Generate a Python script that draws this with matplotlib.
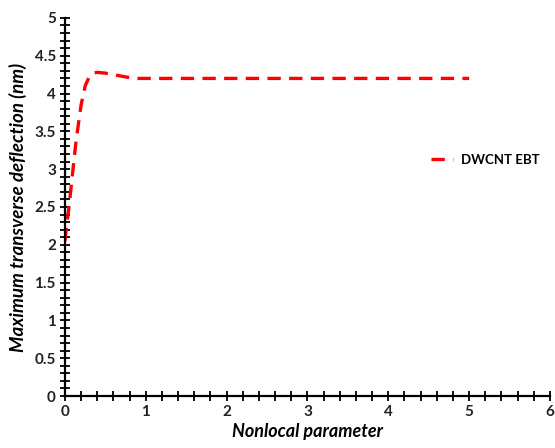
import numpy as np
from matplotlib import pyplot as plt
from matplotlib.ticker import MultipleLocator

# nonlocal parameter vs maximum deflection (nm)
nonlocal_param = [0, 0.02, 0.05, 0.08, 0.1, 0.13, 0.15, 0.2, 0.25, 0.3, 0.35, 0.4, 0.5,
                  0.6, 0.7, 0.8, 0.9, 1.0, 1.5, 2, 2.5, 3, 3.5, 4, 4.5, 5]
deflection = [2.05, 2.25, 2.5, 2.8, 3.0, 3.3, 3.47, 3.85, 4.1, 4.22, 4.27, 4.28, 4.27,
              4.25, 4.23, 4.21, 4.2, 4.2, 4.2, 4.2, 4.2, 4.2, 4.2, 4.2, 4.2, 4.2]
series_name = 'DWCNT EBT'

plt.rcParams['font.family'] = ['Lato', 'DejaVu Sans']

fig = plt.figure(figsize=(5.55, 4.48), dpi=100)
ax = fig.add_axes([0.117, 0.116, 0.874, 0.844])

ax.plot(nonlocal_param, deflection, color='#ff0000', lw=2.4, ls=(0, (4, 2.5)), label=series_name)

ax.set_xlim(0, 6)
ax.set_ylim(0, 5)
ax.xaxis.set_major_locator(MultipleLocator(1))
ax.xaxis.set_minor_locator(MultipleLocator(0.2))
ax.yaxis.set_major_locator(MultipleLocator(0.5))
ax.yaxis.set_minor_locator(MultipleLocator(0.1))
ax.yaxis.set_major_formatter(plt.FuncFormatter(lambda v, p: '%g' % v))
ax.tick_params(which='both', direction='inout', width=1.3, length=7, labelsize=11, pad=3)
ax.tick_params(which='minor', length=7)
for lab in ax.get_xticklabels() + ax.get_yticklabels():
    lab.set_fontweight('bold')
    lab.set_color('#222222')

ax.spines['top'].set_visible(False)
ax.spines['right'].set_visible(False)
ax.spines['left'].set_linewidth(1.6)
ax.spines['bottom'].set_linewidth(1.6)

ax.set_xlabel('Nonlocal parameter', fontsize=13, fontstyle='italic', fontweight='bold', labelpad=3)
ax.set_ylabel('Maximum transverse deflection (nm)', fontsize=13.5, fontstyle='italic', fontweight='bold', labelpad=5)

ax.legend(loc='center left', bbox_to_anchor=(0.735, 0.625), frameon=False,
          handlelength=1.7, handletextpad=0.6, borderpad=0.2,
          prop={'weight': 'bold', 'size': 9.5})

fig.savefig('out.png', dpi=100)
